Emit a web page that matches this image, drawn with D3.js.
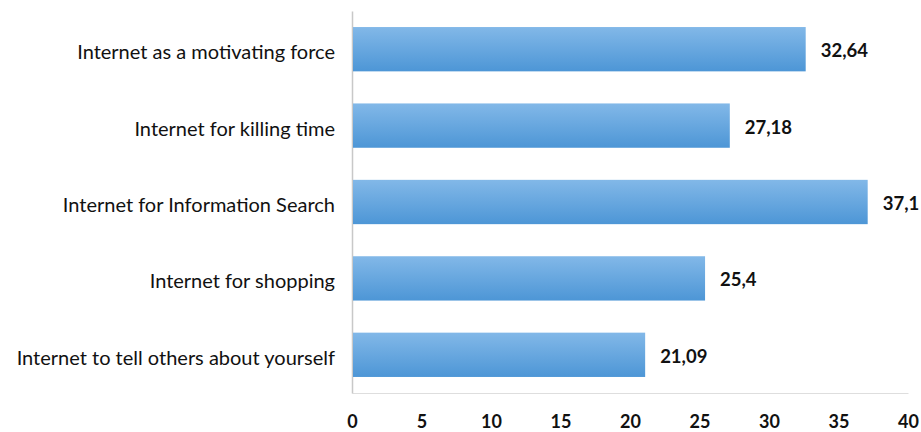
<!DOCTYPE html>
<html>
<head>
<meta charset="utf-8">
<script src="https://cdn.jsdelivr.net/npm/d3@7"></script>
<style>
  body { margin: 0; background: #fff; }
  text { font-family: Lato, "Open Sans", sans-serif; fill: #111; }
</style>
</head>
<body>
<div id="chart-area"></div>
<script>
var categories = [
	"Internet as a motivating force",
	"Internet for killing time",
	"Internet for Information Search ",
	"Internet for shopping",
	"Internet to tell others about yourself"
];
var values = [32.64, 27.18, 37.1, 25.4, 21.09];
var valueLabels = ["32,64", "27,18", "37,1", "25,4", "21,09"];
var tickValues = [0, 5, 10, 15, 20, 25, 30, 35, 40];

var margin = { left: 352, right: 13, top: 11, bottom: 39 };
var width = 921 - margin.left - margin.right;
var height = 432 - margin.top - margin.bottom;

var svg = d3.select("#chart-area").append("svg")
	.attr("width", 921)
	.attr("height", 432);

// bar gradient
var grad = svg.append("defs").append("linearGradient")
	.attr("id", "barGrad")
	.attr("x1", 0).attr("y1", 0).attr("x2", 0).attr("y2", 1);
grad.append("stop").attr("offset", "0%").attr("stop-color", "#82b8e8");
grad.append("stop").attr("offset", "100%").attr("stop-color", "#4d96d6");

var g = svg.append("g")
	.attr("transform", "translate(" + margin.left + ", " + margin.top + ")");

var x = d3.scaleLinear().domain([0, 40]).range([0, width]);
var y = d3.scaleBand().domain(categories).range([0, height]).paddingInner(0.42).paddingOuter(0.21);

// bottom axis (labels only)
var xAxisCall = d3.axisBottom(x).tickValues(tickValues).tickSize(0);
var xAxisGroup = g.append("g")
	.attr("transform", "translate(0," + height + ")")
	.call(xAxisCall);
xAxisGroup.select(".domain").attr("stroke", "#dedede");
xAxisGroup.selectAll("text")
	.attr("y", 35)
	.attr("dy", null)
	.attr("font-size", "18px")
	.attr("font-weight", "bold")
	.style("font-family", "Lato, 'Open Sans', sans-serif")
	.attr("fill", "#1a1a1a");

// left axis
var yAxisCall = d3.axisLeft(y).tickSize(0).tickPadding(17);
var yAxisGroup = g.append("g").call(yAxisCall);
yAxisGroup.select(".domain").attr("stroke", "#c8c8c8").attr("stroke-width", 1.5);
yAxisGroup.selectAll("text")
	.attr("dy", "0.5em")
	.attr("font-size", "20px")
	.style("font-family", "Lato, 'Open Sans', sans-serif")
	.attr("fill", "#111");

// bars
g.selectAll("rect.bar").data(values).enter().append("rect")
	.attr("class", "bar")
	.attr("x", x(0) + 1)
	.attr("y", function (d, i) { return y(categories[i]); })
	.attr("width", function (d) { return x(d) - x(0) - 1; })
	.attr("height", y.bandwidth())
	.attr("fill", "url(#barGrad)");

// value labels
g.selectAll("text.val").data(values).enter().append("text")
	.attr("class", "val")
	.attr("x", function (d) { return x(d) + 15; })
	.attr("y", function (d, i) { return y(categories[i]) + y.bandwidth() / 2 + 8; })
	.attr("font-size", "18.5px")
	.attr("font-weight", "bold")
	.attr("fill", "#1a1a1a")
	.text(function (d, i) { return valueLabels[i]; });
</script>
</body>
</html>
